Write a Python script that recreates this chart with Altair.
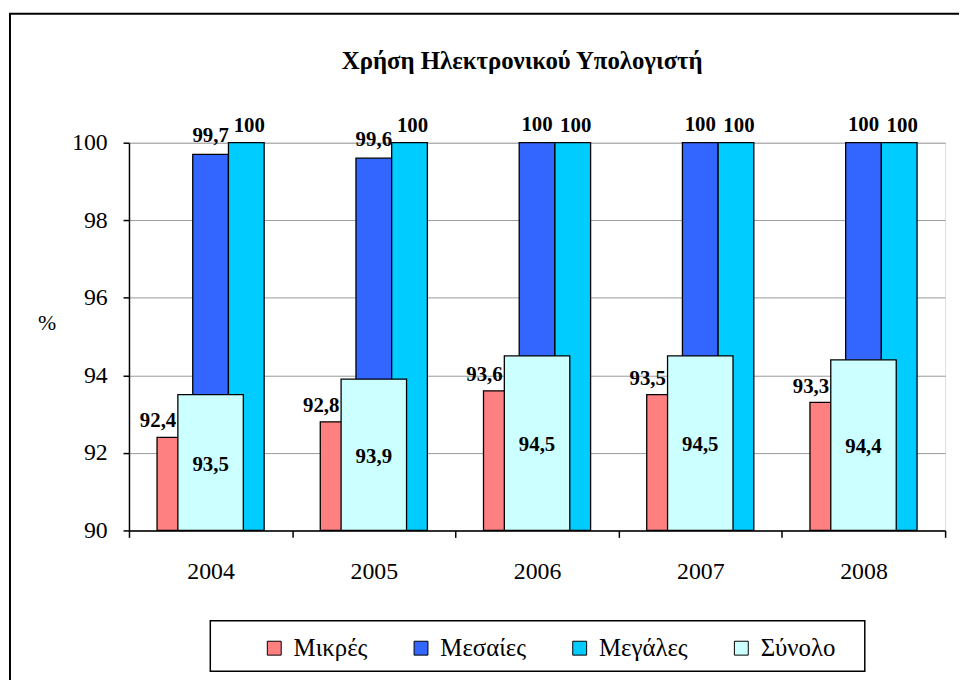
import altair as alt
import pandas as pd

years = ["2004", "2005", "2006", "2007", "2008"]
series = ["Μικρές", "Μεσαίες", "Μεγάλες", "Σύνολο"]
mikres = [92.4, 92.8, 93.6, 93.5, 93.3]
mesaies = [99.7, 99.6, 100, 100, 100]
megales = [100, 100, 100, 100, 100]
synolo = [93.5, 93.9, 94.5, 94.5, 94.4]
colors = ["#FF8080", "#3366FF", "#00CCFF", "#CCFFFF"]
title_text = "Χρήση Ηλεκτρονικού  Υπολογιστή"

rows = []
for s, vals in zip(series, [mikres, mesaies, megales, synolo]):
    for yr, v in zip(years, vals):
        rows.append({"year": yr, "series": s, "value": v,
                     "label": f"{v:g}".replace(".", ",")})
df = pd.DataFrame(rows)

FONT = "Liberation Serif, Times New Roman, DejaVu Serif, serif"
W, H = 823, 391

x_enc = alt.X("year:N", sort=years,
              scale=alt.Scale(paddingInner=0, paddingOuter=0),
              axis=alt.Axis(title=None, labelAngle=0, tickBand="extent", tickSize=7,
                            labelPadding=22, labelFontSize=24, labelFont=FONT,
                            labelColor="black", domainColor="black", tickColor="black",
                            domainWidth=1.5, tickWidth=1.5, grid=False))


def y_enc(field):
    return alt.Y(f"{field}:Q",
                 scale=alt.Scale(domain=[90, 100], zero=False, nice=False),
                 axis=alt.Axis(values=[90, 92, 94, 96, 98, 100], title="%", titleAngle=0,
                               titleX=-83, titleY=181, titleAlign="center",
                               titleBaseline="middle", titleFontWeight="normal",
                               titleFontSize=22, titleFont=FONT, titleColor="black",
                               tickSize=6, labelPadding=16, labelFontSize=24, labelFont=FONT,
                               labelColor="black", gridColor="#9a9a9a", gridWidth=1,
                               domainColor="black", tickColor="black",
                               domainWidth=1.5, tickWidth=1.5))


color_enc = alt.Color("series:N",
                      scale=alt.Scale(domain=series, range=colors),
                      legend=alt.Legend(orient="none", legendX=134, legendY=497,
                                        direction="horizontal", columns=4, title=None,
                                        symbolType="square", symbolSize=196,
                                        symbolStrokeColor="black", symbolStrokeWidth=1,
                                        labelFontSize=25, labelFont=FONT, labelColor="black",
                                        labelOffset=7, columnPadding=41))

base = alt.Chart(df)

bar_specs = [("Μικρές", 36, -36), ("Μεσαίες", 36, 0), ("Μεγάλες", 36, 36), ("Σύνολο", 66, 0)]
bars = []
for s, w, off in bar_specs:
    bars.append(
        base.transform_filter(alt.datum.series == s)
        .mark_bar(size=w, xOffset=off, stroke="black", strokeWidth=1.3, opacity=1)
        .encode(x=x_enc, y=y_enc("value"), y2=alt.datum(90), color=color_enc)
    )

txt_style = dict(font=FONT, fontSize=21, fontWeight="bold", color="black")

lab_mik = base.transform_filter(alt.datum.series == "Μικρές").mark_text(
    xOffset=-53, dy=-10, baseline="alphabetic", align="center", **txt_style
).encode(x=x_enc, y=y_enc("value"), text="label:N")

lab_mes = base.transform_filter(alt.datum.series == "Μεσαίες").mark_text(
    xOffset=0, dy=-12, baseline="alphabetic", align="center", **txt_style
).encode(x=x_enc, y=y_enc("value"), text="label:N")

lab_meg = base.transform_filter(alt.datum.series == "Μεγάλες").mark_text(
    xOffset=39, dy=-11, baseline="alphabetic", align="center", **txt_style
).encode(x=x_enc, y=y_enc("value"), text="label:N")

lab_syn = base.transform_filter(alt.datum.series == "Σύνολο").transform_calculate(
    mid="(datum.value + 90) / 2"
).mark_text(xOffset=0, dy=2, baseline="middle", align="center", **txt_style).encode(
    x=x_enc, y=y_enc("mid"), text="label:N")

one = alt.Data(values=[{"t": title_text}])
frame = alt.Chart(one).mark_rect(fill="transparent", stroke="black", strokeWidth=2).encode(
    x=alt.value(-120), x2=alt.value(845), y=alt.value(-130), y2=alt.value(560))
legend_box = alt.Chart(one).mark_rect(fill="white", stroke="black", strokeWidth=1.5).encode(
    x=alt.value(82), x2=alt.value(742), y=alt.value(482), y2=alt.value(533))
title = alt.Chart(one).mark_text(font=FONT, fontSize=25, fontWeight="bold", color="black",
                                 align="center", baseline="alphabetic").encode(
    x=alt.value(W / 2 - 15), y=alt.value(-74), text="t:N")

chart = alt.layer(frame, legend_box, title, *bars, lab_mik, lab_mes, lab_meg, lab_syn).properties(
    width=W, height=H,
    autosize=alt.AutoSizeParams(type="none"),
    padding={"left": 122, "top": 133, "right": 14, "bottom": 148},
).configure_view(stroke="#8c8c8c", fill="#FBF0DC", strokeWidth=1).configure(
    background="white", font=FONT)

chart.save("out.html", embed_options={"renderer": "svg", "actions": False})
